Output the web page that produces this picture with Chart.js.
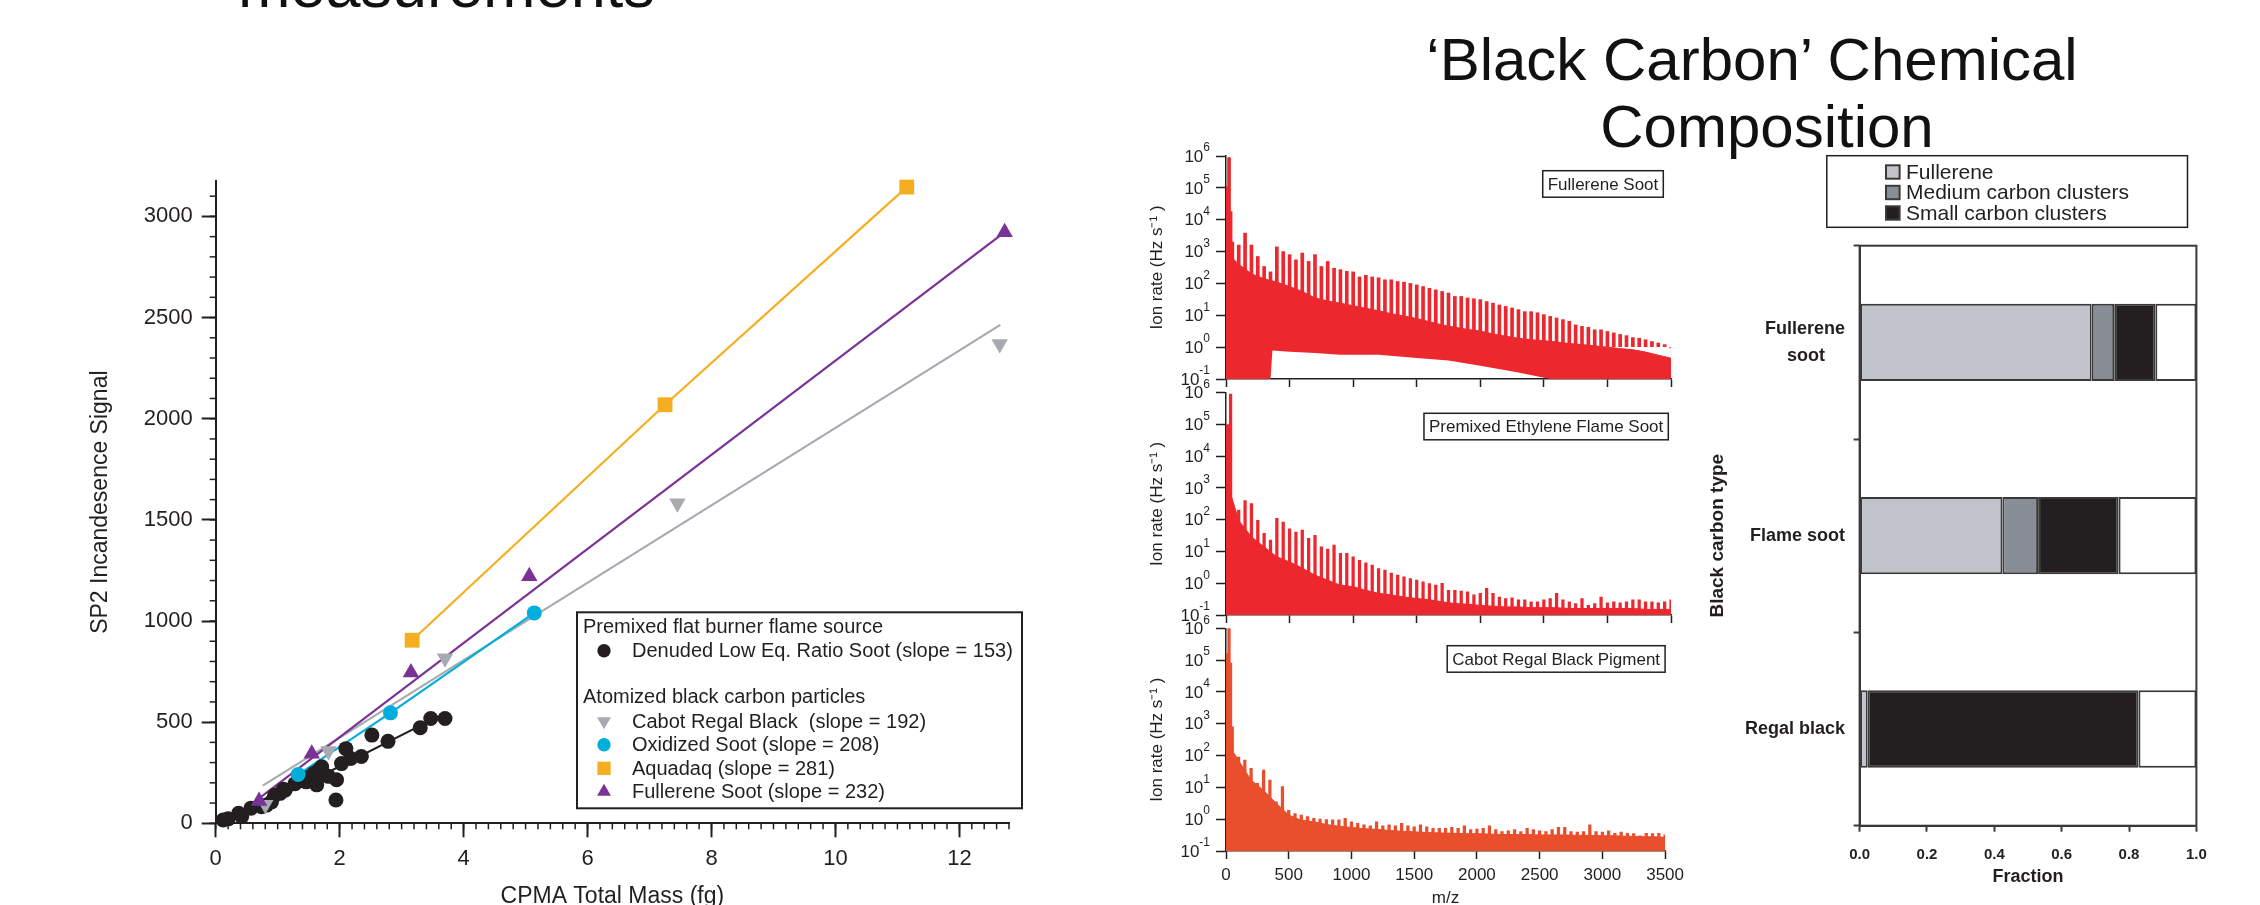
<!DOCTYPE html>
<html lang="en">
<head>
<meta charset="utf-8">
<title>Black carbon measurements</title>
<script src="https://cdn.jsdelivr.net/npm/chart.js@4.4.1/dist/chart.umd.min.js"></script>
<style>
  html, body { margin: 0; padding: 0; background: #fff; }
  body { position: relative; width: 2260px; height: 905px; overflow: hidden;
         font-family: "Liberation Sans", Arial, Helvetica, sans-serif; color: #111; }
  .slide-title { position: absolute; white-space: nowrap; line-height: 1; }
  canvas { position: absolute; }
</style>
</head>
<body>
<div class="slide-title" style="left:238px; top:-46px; font-size:63px;">measurements</div>
<div class="slide-title" style="left:1252px; width:1000px; text-align:center; top:30px; font-size:60px;">‘Black Carbon’ Chemical</div>
<div class="slide-title" style="left:1267px; width:1000px; text-align:center; top:97px; font-size:60px;">Composition</div>

<canvas id="chartSP2" width="1060" height="790" style="left:0;top:150px"></canvas>
<canvas id="specFullerene" width="570" height="260" style="left:1120px;top:140px"></canvas>
<canvas id="specFlame" width="570" height="260" style="left:1120px;top:370px"></canvas>
<canvas id="specRegal" width="570" height="320" style="left:1120px;top:605px"></canvas>
<canvas id="chartFraction" width="560" height="775" style="left:1690px;top:130px"></canvas>

<script>
// ============================================================
//  Data – SP2 incandescence vs CPMA total mass (fg)
// ============================================================
const seriesNames  = ['Denuded Low Eq. Ratio Soot', 'Cabot Regal Black ', 'Oxidized Soot', 'Aquadaq', 'Fullerene Soot'];
const seriesSlopes = [153, 192, 208, 281, 232];
const massTicks    = [0, 2, 4, 6, 8, 10, 12];
const signalTicks  = [0, 500, 1000, 1500, 2000, 2500, 3000];

const denudedMass   = [0.12, 0.2, 0.37, 0.42, 0.57, 0.74, 0.82, 0.9, 0.95, 1.04, 1.09, 1.12, 1.28, 1.36, 1.46, 1.5, 1.58, 1.63, 1.66, 1.71, 1.76, 1.82, 1.94, 1.95, 2.03, 2.1, 2.18, 2.35, 2.52, 2.78, 3.3, 3.47, 3.7];
const denudedSignal = [16, 22, 50, 33, 75, 82, 90, 106, 139, 148, 168, 164, 196, 213, 205, 228, 246, 190, 262, 279, 240, 232, 115, 215, 295, 369, 320, 330, 436, 405, 472, 518, 518];
const denudedFitMass   = [0.6, 3.31];
const denudedFitSignal = [64, 484];

const regalMass   = [0.8, 1.82, 3.7, 7.45, 12.65];
const regalSignal = [92, 358, 816, 1582, 2369];
const regalFitMass   = [0.76, 12.66];
const regalFitSignal = [186, 2464];

const oxidizedMass   = [1.33, 2.82, 5.14];
const oxidizedSignal = [241, 546, 1040];

const aquadaqMass   = [3.17, 7.25, 11.15];
const aquadaqSignal = [905, 2069, 3145];

const fullereneMass   = [0.7, 1.55, 3.15, 5.06, 12.73];
const fullereneSignal = [110, 344, 746, 1221, 2922];
const fullereneFitMass   = [0.62, 12.73];
const fullereneFitSignal = [105, 2922];

// ============================================================
//  Data – mass spectra (m/z vs ion rate, Hz s-1)
// ============================================================
const spikeMz = [12, 24, 36, 50, 100, 150, 200, 250, 300, 350, 400, 450, 500, 550, 600, 650, 700, 750, 800, 850, 900, 950, 1000,
  1050, 1100, 1150, 1200, 1250, 1300, 1350, 1400, 1450, 1500, 1550, 1600, 1650, 1700, 1750, 1800, 1850, 1900, 1950, 2000,
  2050, 2100, 2150, 2200, 2250, 2300, 2350, 2400, 2450, 2500, 2550, 2600, 2650, 2700, 2750, 2800, 2850, 2900, 2950, 3000,
  3050, 3100, 3150, 3200, 3250, 3300, 3350, 3400, 3450, 3500];
const bandMz = [0, 100, 200, 300, 400, 500, 600, 700, 800, 900, 1000, 1100, 1200, 1300, 1400, 1500, 1600, 1700,
  1800, 1900, 2000, 2100, 2200, 2300, 2400, 2500, 2600, 2700, 2800, 2900, 3000, 3100, 3200, 3300, 3400, 3500];
const decadeTicks = [0.1, 1, 10, 100, 1e3, 1e4, 1e5, 1e6];
const mzTicks     = [0, 500, 1000, 1500, 2000, 2500, 3000, 3500];

// Fullerene soot
const fullereneTips = [1.1e5, 8.9e5, 1.8e4,
  2000, 1600, 3800, 1600, 700, 340, 230, 1400, 1000, 800,
  550, 900, 490, 800, 340, 490, 300, 270, 240, 230,
  160, 180, 160, 150, 130, 130, 115, 110, 100, 90,
  80, 70, 63, 56, 50, 39, 39, 35, 33, 31,
  27, 24, 21, 19, 17, 15, 13, 13, 12, 10.5,
  9.2, 8.2, 7.3, 6.5, 5.0, 4.5, 4.2, 3.5, 3.5, 3.1,
  2.8, 2.5, 2.3, 2.0, 1.9, 1.7, 1.5, 1.35, 1.2, 0.95];
const fullereneBandHigh = [1000, 400, 200, 140, 110, 80, 56, 35, 28, 24, 20, 16.6, 13.8, 11.2, 9.5, 7.9, 6.3, 5.0,
  4.2, 3.6, 3.2, 2.6, 2.2, 1.9, 1.7, 1.6, 1.45, 1.3, 1.2, 1.1, 1.0, 0.9, 0.83, 0.7, 0.56, 0.45];
// lower edge of the dense band (white gap underneath between ~360 and ~2500)
const fullereneLowMz  = [0, 350, 365, 500, 700, 900, 1200, 1500, 1750, 2000, 2300, 2550, 3500];
const fullereneBandLow = [0.1, 0.1, 0.78, 0.72, 0.65, 0.58, 0.58, 0.46, 0.38, 0.26, 0.16, 0.1, 0.1];

// Premixed ethylene flame soot
const flameTips = [1e5, 2e3, 9e5,
  290, 200, 400, 320, 95, 37, 23, 110, 85, 52,
  41, 47, 26, 32, 14, 12, 16, 8.7, 8.7, 6.8,
  5.3, 4.4, 3.7, 2.9, 2.6, 2.1, 1.8, 1.6, 1.4, 1.25,
  1.1, 0.98, 0.87, 1.0, 0.6, 0.6, 0.57, 0.54, 0.43, 0.48,
  0.69, 0.48, 0.37, 0.33, 0.35, 0.3, 0.3, 0.26, 0.26, 0.3,
  0.33, 0.48, 0.3, 0.26, 0.23, 0.33, 0.2, 0.23, 0.37, 0.24,
  0.26, 0.24, 0.26, 0.3, 0.3, 0.26, 0.26, 0.24, 0.26, 0.3];
const flameBandHigh = [2000, 95, 29, 14, 6.8, 4.7, 3.0, 1.8, 1.25, 0.87, 0.78, 0.6, 0.48, 0.43, 0.37, 0.33, 0.3, 0.26,
  0.23, 0.22, 0.2, 0.19, 0.18, 0.18, 0.17, 0.17, 0.17, 0.16, 0.16, 0.16, 0.16, 0.16, 0.16, 0.15, 0.15, 0.15];

// Cabot Regal Black pigment
const regalTips = [1.6e5, 1e6, 8e4,
  800, 90, 72, 40, 13.5, 35, 17, 3.5, 10.5, 1.9,
  1.5, 1.35, 1.2, 1.07, 1.0, 0.97, 0.95, 0.95, 1.07, 0.83,
  0.74, 0.66, 0.62, 0.83, 0.62, 0.66, 0.62, 0.74, 0.62, 0.57,
  0.66, 0.57, 0.52, 0.52, 0.52, 0.55, 0.52, 0.62, 0.47, 0.49,
  0.52, 0.62, 0.47, 0.41, 0.43, 0.47, 0.41, 0.52, 0.47, 0.43,
  0.41, 0.47, 0.55, 0.55, 0.41, 0.39, 0.41, 0.66, 0.41, 0.39,
  0.43, 0.36, 0.39, 0.36, 0.35, 0.3, 0.36, 0.35, 0.36, 0.32];
const regalBandHigh = [300, 70, 17, 8, 3.2, 1.35, 0.93, 0.83, 0.68, 0.6, 0.55, 0.5, 0.48, 0.44, 0.42, 0.4, 0.38, 0.37,
  0.36, 0.35, 0.35, 0.34, 0.33, 0.33, 0.33, 0.32, 0.32, 0.32, 0.31, 0.31, 0.3, 0.3, 0.29, 0.28, 0.28, 0.27];

// ============================================================
//  Data – composition fractions
// ============================================================
const carbonTypes   = [['Fullerene', 'soot'], 'Flame soot', 'Regal black'];
const fracFullerene = [0.689, 0.424, 0.024];
const fracMedium    = [0.067, 0.106, 0];
const fracSmall     = [0.122, 0.239, 0.804];
const fracRest      = [0.122, 0.231, 0.172];
const fractionTicks = [0, 0.2, 0.4, 0.6, 0.8, 1.0];

// ============================================================
//  Common settings
// ============================================================
const INK  = '#231F20';
const FONT = '"Liberation Sans", Arial, Helvetica, sans-serif';
Chart.defaults.font.family = FONT;
Chart.defaults.color = INK;
Chart.defaults.animation = false;
Chart.defaults.events = [];
Chart.defaults.plugins.legend.display = false;
Chart.defaults.plugins.tooltip.enabled = false;

const pts = (xs, ys) => xs.map((x, i) => ({ x, y: ys[i] }));
const fixedTicks = list => s => { s.ticks = list.map(v => ({ value: v })); };

// short ticks between the labelled ones
const minorTicks = {
    id: 'minorTicks',
    afterDraw(chart, args, opts) {
        const { ctx } = chart;
        ctx.save();
        ctx.strokeStyle = INK;
        ctx.lineWidth = 1.5;
        ['x', 'y'].forEach(id => {
            const step = opts[id];
            const sc = chart.scales[id];
            if (!step || !sc) return;
            const n = Math.floor((sc.max - sc.min) / step + 1e-6);
            for (let i = 0; i <= n; i++) {
                const p = sc.getPixelForValue(sc.min + i * step);
                ctx.beginPath();
                if (id === 'x') { ctx.moveTo(p, sc.top); ctx.lineTo(p, sc.top + opts.length); }
                else { ctx.moveTo(sc.right, p); ctx.lineTo(sc.right - opts.length, p); }
                ctx.stroke();
            }
        });
        ctx.restore();
    }
};

function drawMarker(ctx, style, rotation, radius, x, y) {
    Chart.helpers.drawPoint(ctx, { pointStyle: style, rotation: rotation, radius: radius, borderWidth: 0 }, x, y);
}

// boxed legend split in two groups (flame source / atomized particles)
const groupedLegend = {
    id: 'groupedLegend',
    afterDraw(chart, args, opts) {
        const { ctx, chartArea } = chart;
        const w = 445, h = 196;
        const x0 = chartArea.right + 13 - w;
        const y0 = chartArea.bottom - 15 - h;
        ctx.save();
        ctx.fillStyle = '#fff';
        ctx.fillRect(x0, y0, w, h);
        ctx.strokeStyle = INK;
        ctx.lineWidth = 2;
        ctx.strokeRect(x0, y0, w, h);
        ctx.font = `20px ${FONT}`;
        ctx.textBaseline = 'middle';
        let y = y0 + 15;
        opts.groups.forEach((g, gi) => {
            if (gi > 0) y += 23.5;
            ctx.fillStyle = INK;
            ctx.fillText(g.title, x0 + 6, y);
            g.items.forEach(idx => {
                y += 23.5;
                const ds = chart.data.datasets[idx];
                ctx.fillStyle = ds.backgroundColor;
                drawMarker(ctx, ds.pointStyle, ds.pointRotation, ds.legendRadius, x0 + 27, y);
                ctx.fillStyle = INK;
                ctx.fillText(ds.label, x0 + 55, y + 1);
            });
            y += 23.5;
        });
        ctx.restore();
    }
};

// ============================================================
//  Chart 1 – SP2 signal vs CPMA mass
// ============================================================
const GRAY = '#A7ABB1', CYAN = '#00AEDB', ORANGE = '#F6AE21', PURPLE = '#7B3296';

function markerSet(i, xs, ys, color, style, rot, r, lr) {
    return {
        label: `${seriesNames[i]} (slope = ${seriesSlopes[i]})`,
        data: pts(xs, ys), showLine: false, order: 0, clip: false,
        backgroundColor: color, borderColor: color, borderWidth: 0,
        pointStyle: style, pointRotation: rot, pointRadius: r, legendRadius: lr
    };
}
function fitLine(xs, ys, color) {
    return {
        label: 'fit', data: pts(xs, ys), showLine: true, order: 1, clip: false,
        borderColor: color, borderWidth: 2.2, pointRadius: 0, backgroundColor: color
    };
}

new Chart(document.getElementById('chartSP2'), {
    type: 'scatter',
    data: {
        datasets: [
            markerSet(4, fullereneMass, fullereneSignal, PURPLE, 'triangle', 0, 9.5, 8),
            markerSet(3, aquadaqMass, aquadaqSignal, ORANGE, 'rect', 0, 10.5, 9.4),
            markerSet(2, oxidizedMass, oxidizedSignal, CYAN, 'circle', 0, 7.5, 6.7),
            markerSet(1, regalMass, regalSignal, GRAY, 'triangle', 180, 9.5, 8),
            markerSet(0, denudedMass, denudedSignal, INK, 'circle', 0, 7.5, 6.7),
            fitLine(fullereneFitMass, fullereneFitSignal, PURPLE),
            fitLine(aquadaqMass, aquadaqSignal, ORANGE),
            fitLine(oxidizedMass, oxidizedSignal, CYAN),
            fitLine(regalFitMass, regalFitSignal, GRAY),
            fitLine(denudedFitMass, denudedFitSignal, INK)
        ]
    },
    options: {
        responsive: false,
        layout: { padding: { top: 31, right: 51, left: 0, bottom: 0 } },
        scales: {
            x: {
                type: 'linear', min: 0, max: 12.8,
                afterBuildTicks: fixedTicks(massTicks),
                afterFit: s => { s.height = 116.7; },
                border: { color: INK, width: 2 },
                grid: { drawOnChartArea: false, tickLength: 14, tickColor: INK, tickWidth: 2 },
                ticks: { padding: 8, font: { size: 22 }, maxRotation: 0, callback: v => String(v) },
                title: { display: true, text: 'CPMA Total Mass (fg)', font: { size: 23 }, padding: { top: 0, bottom: 30 } }
            },
            y: {
                type: 'linear', min: 0, max: 3175,
                afterBuildTicks: fixedTicks(signalTicks),
                afterFit: s => { s.width = 215.7; },
                border: { color: INK, width: 2 },
                grid: { drawOnChartArea: false, tickLength: 14, tickColor: INK, tickWidth: 2 },
                ticks: { padding: 9, font: { size: 22 }, callback: v => String(v) },
                title: { display: true, text: 'SP2 Incandesence Signal', font: { size: 23 }, padding: { top: 87, bottom: 0 } }
            }
        },
        plugins: {
            minorTicks: { x: 0.2, y: 100, length: 6 },
            groupedLegend: {
                groups: [
                    { title: 'Premixed flat burner flame source', items: [4] },
                    { title: 'Atomized black carbon particles', items: [3, 2, 1, 0] }
                ]
            }
        }
    },
    plugins: [minorTicks, groupedLegend]
});

// ============================================================
//  Charts 2-4 – mass spectra
// ============================================================
// y labels drawn as 10 with a raised exponent
const powerLabels = {
    id: 'powerLabels',
    afterDraw(chart) {
        const sc = chart.scales.y;
        const { ctx } = chart;
        ctx.save();
        ctx.fillStyle = INK;
        ctx.textBaseline = 'middle';
        ctx.textAlign = 'right';
        sc.ticks.forEach(t => {
            const e = String(Math.round(Math.log10(t.value)));
            const y = sc.getPixelForValue(t.value);
            const xr = sc.right - 16;
            ctx.font = `12px ${FONT}`;
            ctx.fillText(e, xr, y - 8);
            const w = ctx.measureText(e).width;
            ctx.font = `17px ${FONT}`;
            ctx.fillText('10', xr - w, y + 1);
        });
        ctx.restore();
    }
};

const panelLabel = {
    id: 'panelLabel',
    afterDraw(chart, args, opts) {
        if (!opts.text) return;
        const { ctx, chartArea } = chart;
        ctx.save();
        ctx.font = `17px ${FONT}`;
        const w = ctx.measureText(opts.text).width + 10;
        const h = 26.5;
        const x = chartArea.right - opts.inset - w;
        const y = chartArea.top + opts.top;
        ctx.fillStyle = '#fff';
        ctx.fillRect(x, y, w, h);
        ctx.strokeStyle = INK;
        ctx.lineWidth = 1.5;
        ctx.strokeRect(x, y, w, h);
        ctx.fillStyle = INK;
        ctx.textBaseline = 'middle';
        ctx.fillText(opts.text, x + 5, y + h / 2 + 1);
        ctx.restore();
    }
};

function buildSpectrum(canvasId, cfg) {
    const datasets = [];
    if (cfg.bandLow) {
        datasets.push({ type: 'line', data: pts(cfg.lowMz, cfg.bandLow), borderWidth: 0, pointRadius: 0, fill: false });
    }
    datasets.push({
        type: 'line', data: pts(bandMz, cfg.bandHigh), borderColor: cfg.color, borderWidth: 1,
        backgroundColor: cfg.color, pointRadius: 0, fill: cfg.bandLow ? '-1' : 'start'
    });
    datasets.push({
        type: 'bar', data: pts(spikeMz, cfg.tips), backgroundColor: cfg.color,
        barThickness: cfg.spikeWidth, base: cfg.spikeBase
    });

    new Chart(document.getElementById(canvasId), {
        type: 'bar',
        data: { datasets },
        options: {
            responsive: false,
            layout: { padding: { top: cfg.top, right: 19, left: 0, bottom: 0 } },
            scales: {
                x: {
                    type: 'linear', min: 0, max: 3500, offset: false,
                    afterBuildTicks: fixedTicks(mzTicks),
                    afterFit: s => { s.height = cfg.xHeight; },
                    border: { color: INK, width: 1.5 },
                    grid: { offset: false, drawOnChartArea: false, tickLength: 8, tickColor: INK, tickWidth: 1.5 },
                    ticks: { display: cfg.showX, padding: 6, font: { size: 17 }, maxRotation: 0, callback: v => String(v) },
                    title: { display: cfg.showX, text: 'm/z', font: { size: 17 }, padding: { top: 0, bottom: 16.8 } }
                },
                y: {
                    type: 'logarithmic', min: 0.1, max: 1e6,
                    afterBuildTicks: fixedTicks(decadeTicks),
                    afterFit: s => { s.width = 106; },
                    border: { color: INK, width: 1.5 },
                    grid: { drawOnChartArea: false, tickLength: 10, tickColor: INK, tickWidth: 1.5 },
                    ticks: { display: false },
                    title: { display: true, text: 'Ion rate (Hz s⁻¹ )', font: { size: 17 }, padding: { top: 27.3, bottom: 0 } }
                }
            },
            plugins: { panelLabel: cfg.label }
        },
        plugins: [powerLabels, panelLabel]
    });
}

buildSpectrum('specFullerene', {
    tips: fullereneTips, bandHigh: fullereneBandHigh, lowMz: fullereneLowMz, bandLow: fullereneBandLow,
    spikeBase: 1, spikeWidth: 3, color: '#EC282E', top: 16, xHeight: 21, showX: false,
    label: { text: 'Fullerene Soot', inset: 7.7, top: 14.7 }
});
buildSpectrum('specFlame', {
    tips: flameTips, bandHigh: flameBandHigh, spikeWidth: 2.6, color: '#EC282E', top: 22.7, xHeight: 15, showX: false,
    label: { text: 'Premixed Ethylene Flame Soot', inset: 2.7, top: 20.6 }
});
buildSpectrum('specRegal', {
    tips: regalTips, bandHigh: regalBandHigh, spikeWidth: 2.6, color: '#E94E2D', top: 23.3, xHeight: 74, showX: true,
    label: { text: 'Cabot Regal Black Pigment', inset: 0, top: 17.4 }
});

// ============================================================
//  Chart 5 – composition fractions (stacked horizontal bars)
// ============================================================
const measureCtx = document.createElement('canvas').getContext('2d');
function centreLines(lines, font) {
    measureCtx.font = font;
    const widths = lines.map(l => measureCtx.measureText(l).width);
    const max = Math.max(...widths);
    const sp = measureCtx.measureText('\u00a0').width;
    return lines.map((l, i) => l + '\u00a0'.repeat(Math.round((max - widths[i]) / 2 / sp)));
}

const frame = {
    id: 'frame',
    afterDraw(chart) {
        const { ctx, chartArea: a } = chart;
        ctx.save();
        ctx.strokeStyle = '#3A3A3A';
        ctx.lineWidth = 2;
        ctx.strokeRect(a.left, a.top, a.right - a.left, a.bottom - a.top);
        ctx.restore();
    }
};

const boxedLegend = {
    id: 'boxedLegend',
    afterDraw(chart) {
        const { ctx, chartArea } = chart;
        const x0 = chartArea.left - 32.8, y0 = chartArea.top - 90, w = 360.7, h = 71.6;
        ctx.save();
        ctx.strokeStyle = INK;
        ctx.lineWidth = 1.5;
        ctx.strokeRect(x0, y0, w, h);
        ctx.font = `21px ${FONT}`;
        ctx.textBaseline = 'middle';
        chart.data.datasets.filter(d => !d.hideInLegend).forEach((d, i) => {
            const cy = y0 + 16.3 + i * 20.5;
            ctx.fillStyle = d.backgroundColor;
            ctx.fillRect(x0 + 59.2, cy - 6.7, 13.6, 13.4);
            ctx.strokeStyle = '#3A3A3A';
            ctx.lineWidth = 2;
            ctx.strokeRect(x0 + 59.2, cy - 6.7, 13.6, 13.4);
            ctx.fillStyle = INK;
            ctx.fillText(d.label, x0 + 79.2, cy + 1);
        });
        ctx.restore();
    }
};

const barStyle = { borderColor: '#3A3A3A', borderWidth: 2, borderSkipped: false, barPercentage: 0.4, categoryPercentage: 1 };
const labelFont = `bold 18px ${FONT}`;

new Chart(document.getElementById('chartFraction'), {
    type: 'bar',
    data: {
        labels: carbonTypes,
        datasets: [
            { label: 'Fullerene', data: fracFullerene, backgroundColor: '#C0C3CA', ...barStyle },
            { label: 'Medium carbon clusters', data: fracMedium, backgroundColor: '#888E96', ...barStyle },
            { label: 'Small carbon clusters', data: fracSmall, backgroundColor: '#231F20', ...barStyle },
            { label: 'Remainder', data: fracRest, backgroundColor: '#FFFFFF', hideInLegend: true, ...barStyle }
        ]
    },
    options: {
        responsive: false,
        indexAxis: 'y',
        layout: { padding: { top: 115.7, right: 53.6, left: 0, bottom: 0 } },
        scales: {
            x: {
                stacked: true, min: 0, max: 1,
                afterBuildTicks: fixedTicks(fractionTicks),
                afterFit: s => { s.height = 79.3; },
                border: { color: '#3A3A3A', width: 2 },
                grid: { drawOnChartArea: false, tickLength: 6, tickColor: '#3A3A3A', tickWidth: 2 },
                ticks: { padding: 14, font: { size: 15, weight: 'bold' }, callback: v => Number(v).toFixed(1) },
                title: { display: true, text: 'Fraction', font: { size: 18, weight: 'bold' }, padding: { top: 0, bottom: 17.2 } }
            },
            y: {
                stacked: true,
                afterFit: s => { s.width = 169.6; },
                border: { color: '#3A3A3A', width: 2 },
                grid: { drawOnChartArea: false, tickLength: 6, tickColor: '#3A3A3A', tickWidth: 2 },
                ticks: {
                    padding: 8.6,
                    font: { size: 18, weight: 'bold', lineHeight: 1.5 },
                    callback: function (value) {
                        const l = carbonTypes[value];
                        return Array.isArray(l) ? centreLines(l, labelFont) : l;
                    }
                },
                title: { display: true, text: 'Black carbon type', font: { size: 19, weight: 'bold' }, padding: { top: 16.6, bottom: 0 } }
            }
        }
    },
    plugins: [frame, boxedLegend]
});
</script>
</body>
</html>
